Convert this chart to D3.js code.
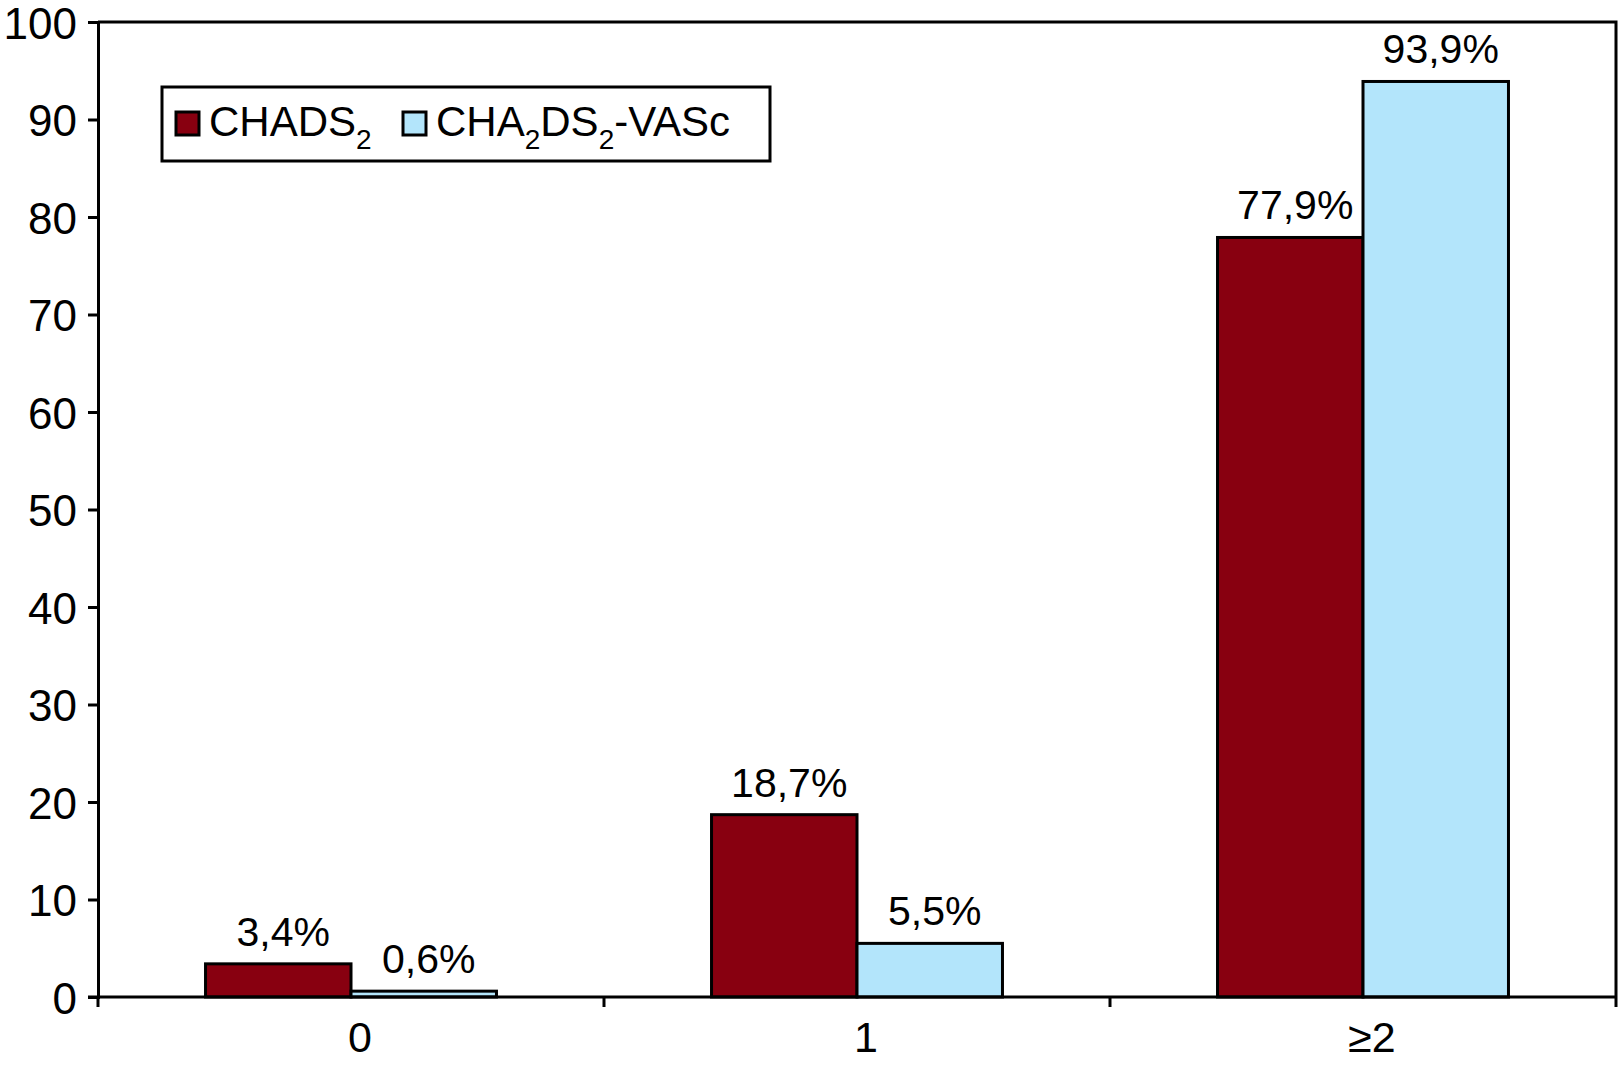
<!DOCTYPE html>
<html>
<head>
<meta charset="utf-8">
<script src="https://cdn.jsdelivr.net/npm/d3@7"></script>
<style>
  body { margin: 0; background: #fff; }
  text { font-family: "Liberation Sans", Arial, sans-serif; fill: #000; }
</style>
</head>
<body>
<div class="visHolder"></div>
<script>
const categories = ["0", "1", "≥2"];
const seriesNames = ["CHADS2", "CHA2DS2-VASc"];
const chads2 = [3.4, 18.7, 77.9];
const cha2ds2vasc = [0.6, 5.5, 93.9];
const yTicks = [0, 10, 20, 30, 40, 50, 60, 70, 80, 90, 100];

const width = 1619,
  height = 1067,
  plotLeft = 98,
  plotTop = 22,
  plotRight = 1616,
  plotBottom = 997;

const colors = ["#880010", "#b3e5fb"];

const svg = d3
  .select(".visHolder")
  .append("svg")
  .attr("width", width)
  .attr("height", height);

const xScale = d3
  .scaleBand()
  .domain(categories)
  .range([plotLeft, plotRight])
  .paddingInner(0.425)
  .paddingOuter(0.2125);

const xInner = d3
  .scaleBand()
  .domain(seriesNames)
  .range([0, xScale.bandwidth()]);

const yScale = d3.scaleLinear().domain([0, 100]).range([plotBottom, plotTop]);

const rows = categories.map((c, i) => [
  { cat: c, name: seriesNames[0], value: chads2[i] },
  { cat: c, name: seriesNames[1], value: cha2ds2vasc[i] },
]);

// top and right frame lines
svg
  .append("path")
  .attr("d", "M" + plotLeft + "," + plotTop + "H" + plotRight + "V" + plotBottom)
  .attr("fill", "none")
  .attr("stroke", "#000")
  .attr("stroke-width", 3);

const groups = svg
  .selectAll(".group")
  .data(rows)
  .enter()
  .append("g")
  .attr("class", "group")
  .attr("transform", (d) => "translate(" + xScale(d[0].cat) + ",0)");

groups
  .selectAll("rect")
  .data((d) => d)
  .enter()
  .append("rect")
  .attr("x", (d) => xInner(d.name))
  .attr("y", (d) => yScale(d.value))
  .attr("width", xInner.bandwidth())
  .attr("height", (d) => yScale(0) - yScale(d.value))
  .attr("fill", (d, i) => colors[i])
  .attr("stroke", "#000")
  .attr("stroke-width", 3);

groups
  .selectAll(".label")
  .data((d) => d)
  .enter()
  .append("text")
  .attr("class", "label")
  .attr("x", (d) => xInner(d.name) + xInner.bandwidth() / 2 + 5)
  .attr("y", (d) => yScale(d.value) - 18)
  .attr("text-anchor", "middle")
  .style("font-size", "41px")
  .text((d) => d.value.toFixed(1).replace(".", ",") + "%");

const yAxis = d3
  .axisLeft(yScale)
  .tickValues(yTicks)
  .tickSize(10)
  .tickPadding(11);

svg
  .append("g")
  .attr("id", "y-axis")
  .attr("transform", "translate(" + plotLeft + ",0)")
  .call(yAxis)
  .call((g) => g.select(".domain").attr("stroke-width", 3))
  .call((g) => g.selectAll(".tick line").attr("stroke-width", 3))
  .call((g) =>
    g.selectAll(".tick text").style("font-size", "44px").attr("dy", "0.37em")
  );

// x axis: ticks at category boundaries, labels at centers
const boundaries = categories.map(
  (c) => xScale(c) - (xScale.step() * xScale.paddingInner()) / 2
);
boundaries.push(plotRight);

svg
  .append("line")
  .attr("x1", plotLeft - 10)
  .attr("x2", plotRight)
  .attr("y1", plotBottom)
  .attr("y2", plotBottom)
  .attr("stroke", "#000")
  .attr("stroke-width", 3);

svg
  .selectAll(".xtick")
  .data(boundaries)
  .enter()
  .append("line")
  .attr("class", "xtick")
  .attr("x1", (d) => d)
  .attr("x2", (d) => d)
  .attr("y1", plotBottom)
  .attr("y2", plotBottom + 10)
  .attr("stroke", "#000")
  .attr("stroke-width", 3);

svg
  .selectAll(".xlabel")
  .data(categories)
  .enter()
  .append("text")
  .attr("class", "xlabel")
  .attr("x", (d) => xScale(d) + xScale.bandwidth() / 2 + 9)
  .attr("y", 1052)
  .attr("text-anchor", "middle")
  .style("font-size", "43px")
  .text((d) => d);

// legend
const legend = svg.append("g").attr("id", "legend");

legend
  .append("rect")
  .attr("x", 162)
  .attr("y", 87)
  .attr("width", 608)
  .attr("height", 74)
  .attr("fill", "#fff")
  .attr("stroke", "#000")
  .attr("stroke-width", 3);

const legendItems = [
  { x: 176, parts: [["CHADS", false], ["2", true]] },
  { x: 403, parts: [["CHA", false], ["2", true], ["DS", false], ["2", true], ["-VASc", false]] },
];

legendItems.forEach((item, i) => {
  legend
    .append("rect")
    .attr("x", item.x)
    .attr("y", 112)
    .attr("width", 23)
    .attr("height", 23)
    .attr("fill", colors[i])
    .attr("stroke", "#000")
    .attr("stroke-width", 3);

  const t = legend
    .append("text")
    .attr("x", item.x + 33)
    .attr("y", 136)
    .style("font-size", "42px");

  let low = false;
  item.parts.forEach((p) => {
    const shift = p[1] ? (low ? 0 : 13) : low ? -13 : 0;
    low = p[1];
    t.append("tspan")
      .attr("dy", shift)
      .style("font-size", p[1] ? "28px" : "42px")
      .text(p[0]);
  });
});
</script>
</body>
</html>
